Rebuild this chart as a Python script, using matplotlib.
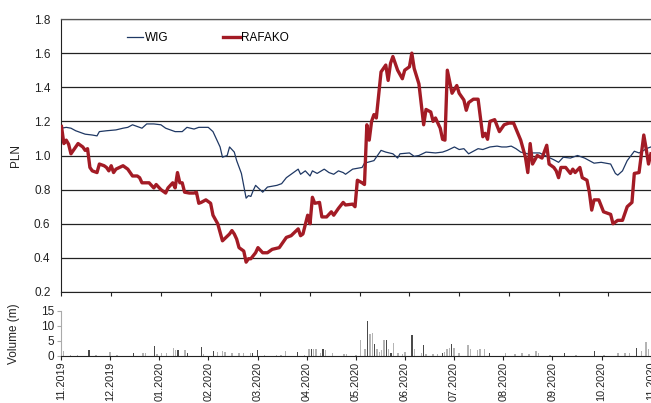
import numpy as np
import matplotlib
matplotlib.use("Agg")
import matplotlib.pyplot as plt

plt.rcParams['font.family'] = ['Liberation Sans', 'DejaVu Sans']
plt.rcParams['font.size'] = 8.5

# ---- data (trading-day index from 1 Nov 2019, ~21 sessions per month) ----
month_labels = ['11.2019', '12.2019', '01.2020', '02.2020', '03.2020',
                '04.2020', '05.2020', '06.2020', '07.2020', '08.2020',
                '09.2020', '10.2020', '11.2020']
days_per_month = 21

wig_t = [0, 2, 4, 6, 10, 13, 15, 16, 19, 23, 26, 28, 30, 32, 34, 36, 39, 42, 44, 46,
         48, 51, 53, 56, 58, 62, 64, 66, 67, 68, 70, 71, 73, 74, 76, 78, 79, 80, 81, 82,
         85, 87, 91, 93, 95, 98, 100, 101, 103, 105, 106, 108, 111, 113, 115, 117, 119, 120,
         123, 125, 127, 128, 132, 133, 135, 137, 140, 142, 143, 147, 149, 151, 154, 158,
         161, 163, 166, 168, 170, 172, 174, 176, 178, 181, 184, 186, 188, 190, 192, 194,
         197, 199, 202, 205, 208, 210, 212, 215, 218, 221, 225, 228, 232, 234, 235, 237,
         239, 242, 244, 246, 247, 249]
wig = [1.16, 1.165, 1.16, 1.145, 1.125, 1.12, 1.115, 1.14, 1.145, 1.15, 1.16, 1.165,
       1.18, 1.17, 1.16, 1.185, 1.185, 1.18, 1.16, 1.15, 1.14, 1.14, 1.165, 1.155, 1.165,
       1.165, 1.14, 1.08, 1.05, 0.99, 1.00, 1.05, 1.02, 0.97, 0.895, 0.75, 0.765, 0.76,
       0.795, 0.825, 0.785, 0.815, 0.825, 0.835, 0.87, 0.90, 0.92, 0.89, 0.91, 0.88, 0.91,
       0.895, 0.92, 0.90, 0.89, 0.91, 0.90, 0.89, 0.92, 0.925, 0.93, 0.955, 0.97, 0.99,
       1.03, 1.02, 1.01, 0.985, 1.01, 1.015, 0.995, 1.00, 1.02, 1.015, 1.02, 1.03, 1.05,
       1.035, 1.04, 1.01, 1.025, 1.04, 1.035, 1.05, 1.055, 1.05, 1.05, 1.055, 1.04, 1.02,
       1.01, 1.015, 1.015, 0.995, 0.975, 0.96, 0.99, 0.985, 1.00, 0.985, 0.955, 0.96,
       0.95, 0.895, 0.885, 0.91, 0.97, 1.025, 1.015, 1.03, 1.04, 1.05]

rafako_t = [0, 1, 2, 3, 4, 5, 7, 9, 10, 11, 12, 13, 15, 16, 18, 19, 20, 21, 22, 23, 26,
            28, 30, 32, 33, 34, 37, 39, 40, 42, 44, 45, 47, 48, 49, 50, 51, 52, 54, 56, 57,
            58, 59, 61, 63, 64, 66, 68, 71, 72, 73, 74, 75, 77, 78, 79, 80, 82, 83, 85, 87,
            89, 92, 95, 97, 100, 101, 102, 104, 105, 106, 107, 109, 110, 112, 114, 115, 117,
            119, 120, 123, 124, 125, 127, 128, 129, 130, 131, 132, 133, 135, 137, 138, 139,
            140, 142, 144, 145, 147, 148, 149, 151, 153, 154, 156, 157, 158, 160, 161, 162,
            163, 165, 167, 168, 170, 171, 172, 174, 176, 178, 179, 180, 181, 183, 185, 187,
            189, 191, 194, 196, 197, 198, 199, 201, 203, 205, 206, 208, 209, 210, 211, 213,
            215, 216, 217, 219, 220, 222, 223, 224, 225, 227, 229, 232, 233, 235, 237, 238,
            239, 241, 242, 244, 246, 247, 248, 249]
rafako = [1.17, 1.07, 1.09, 1.066, 1.01, 1.03, 1.07, 1.05, 1.03, 1.04, 0.93, 0.91, 0.90,
          0.95, 0.94, 0.93, 0.91, 0.94, 0.90, 0.92, 0.94, 0.92, 0.88, 0.88, 0.87, 0.84, 0.84,
          0.81, 0.83, 0.80, 0.78, 0.81, 0.84, 0.81, 0.90, 0.84, 0.84, 0.785, 0.78, 0.78,
          0.785, 0.72, 0.725, 0.74, 0.72, 0.65, 0.60, 0.50, 0.54, 0.56, 0.54, 0.51, 0.46,
          0.44, 0.375, 0.395, 0.395, 0.43, 0.46, 0.43, 0.43, 0.45, 0.46, 0.52, 0.53, 0.57,
          0.53, 0.54, 0.65, 0.60, 0.755, 0.72, 0.725, 0.64, 0.64, 0.67, 0.65, 0.69, 0.725,
          0.71, 0.715, 0.70, 0.855, 0.84, 0.83, 1.18, 1.09, 1.20, 1.24, 1.22, 1.49, 1.53,
          1.44, 1.54, 1.58, 1.50, 1.45, 1.50, 1.52, 1.60, 1.51, 1.42, 1.18, 1.27, 1.255,
          1.20, 1.22, 1.16, 1.095, 1.09, 1.50, 1.365, 1.41, 1.365, 1.325, 1.265, 1.31, 1.33,
          1.33, 1.11, 1.13, 1.095, 1.20, 1.21, 1.14, 1.18, 1.19, 1.19, 1.09, 0.99, 0.90,
          1.07, 0.95, 1.00, 0.985, 1.06, 0.95, 0.93, 0.91, 0.87, 0.93, 0.93, 0.895, 0.92,
          0.90, 0.93, 0.87, 0.855, 0.785, 0.68, 0.74, 0.74, 0.67, 0.655, 0.60, 0.62, 0.62,
          0.66, 0.70, 0.725, 0.895, 0.90, 1.12, 1.04, 0.95, 1.01]

# volume in millions of shares (two shades in the original)
vol_dark_t = [12, 31, 40, 50, 54, 60, 65, 82, 84, 101, 107, 112, 131, 134, 139, 141, 150,
              155, 163, 167, 183, 215, 228, 246]
vol_dark = [1.8, 1.0, 3.1, 1.8, 1.0, 2.8, 1.7, 1.0, 1.8, 1.2, 2.1, 2.3, 11.6, 4.0, 5.1,
            1.0, 6.8, 3.7, 1.0, 4.0, 1.0, 1.0, 1.6, 2.7]
vol_light_t = [1, 4, 7, 15, 21, 24, 35, 36, 41, 43, 45, 48, 49, 53, 61, 67, 69, 70, 73, 76,
               78, 81, 87, 92, 94, 96, 104, 106, 108, 109, 111, 113, 116, 121, 122, 126,
               128, 130, 132, 133, 135, 136, 137, 138, 140, 142, 144, 146, 147, 151, 154,
               156, 159, 161, 164, 165, 166, 168, 170, 174, 175, 178, 179, 181, 190, 194,
               197, 200, 203, 204, 209, 220, 232, 238, 241, 243, 248, 250, 251]
vol_light = [1.5, 0.3, 0.3, 0.3, 1.3, 0.3, 0.8, 0.9, 0.7, 0.9, 1.0, 2.7, 1.8, 1.8, 0.7,
             1.4, 1.5, 1.3, 0.9, 0.8, 0.9, 0.9, 0.4, 0.3, 0.3, 1.5, 0.4, 2.2, 2.3, 2.3,
             1.0, 1.8, 0.9, 0.7, 0.7, 0.4, 5.3, 2.3, 7.1, 7.7, 2.3, 1.4, 1.8, 5.3, 2.3,
             4.3, 1.0, 0.7, 1.2, 2.3, 1.0, 0.7, 0.7, 0.7, 1.4, 2.1, 2.7, 2.7, 1.0, 3.6,
             2.1, 2.0, 2.3, 2.4, 1.0, 0.6, 0.8, 0.6, 1.5, 0.8, 0.4, 0.3, 0.3, 0.8, 0.8,
             0.8, 1.5, 4.6, 2.4]

# ---- layout ----
W, H = 651, 403
t_max = 256
fig = plt.figure(figsize=(W / 100, H / 100), dpi=100)

ax = fig.add_axes([61.5 / W, (H - 292) / H, 2.367 * t_max / W, 273 / H])
axv = fig.add_axes([61 / W, (H - 355.7) / H, 2.340 * t_max / W, 45 / H])

# ---- main price panel ----
ax.plot(wig_t, wig, color='#1f3864', lw=0.9, label='WIG', zorder=3)
ax.plot(rafako_t, rafako, color='#a31b25', lw=2.4, label='RAFAKO', zorder=4)

ax.set_xlim(0, t_max)
ax.set_ylim(0.2, 1.8)
ax.set_yticks(np.arange(0.2, 1.81, 0.2))
ax.set_yticklabels([f'{v:.1f}' for v in np.arange(0.2, 1.81, 0.2)])
ax.set_xticks([i * days_per_month for i in range(len(month_labels))])
ax.set_xticklabels([])
ax.tick_params(axis='y', length=0, pad=8, colors='#222222')
ax.tick_params(axis='x', direction='out', length=3, width=0.8, color='#222222')
ax.grid(axis='y', color='#222222', lw=0.9)
ax.spines['right'].set_visible(False)
ax.spines['top'].set_color('#555555')
ax.spines['top'].set_linewidth(0.9)
ax.spines['left'].set_color('#222222')
ax.spines['bottom'].set_color('#222222')
ax.set_ylabel('PLN', color='#222222')
ax.yaxis.set_label_coords(-0.065, 0.5)

ax.legend(loc='center left', bbox_to_anchor=(0.108, 0.93), ncol=2, frameon=False,
          handlelength=1.4, handletextpad=0.15, columnspacing=4.6,
          borderpad=0, borderaxespad=0)

# ---- volume panel ----
axv.bar(vol_light_t, vol_light, width=0.6, color='#b4b4b4', linewidth=0)
axv.bar(vol_dark_t, vol_dark, width=0.5, color='#4a4a4a', linewidth=0)
axv.set_xlim(0, t_max)
axv.set_ylim(0, 15)
axv.set_yticks([0, 5, 10, 15])
axv.set_xticks([i * days_per_month for i in range(len(month_labels))])
axv.set_xticklabels(month_labels, rotation=90, fontsize=7.8)
axv.tick_params(axis='x', direction='out', length=3, width=0.8, color='#222222',
                pad=1.2, labelcolor='#222222')
axv.tick_params(axis='y', direction='out', length=3, width=0.8, color='#aaaaaa',
                pad=2, labelcolor='#222222')
axv.spines['top'].set_visible(False)
axv.spines['right'].set_visible(False)
axv.spines['left'].set_color('#aaaaaa')
axv.spines['bottom'].set_color('#222222')
axv.set_ylabel('Volume (m)', color='#222222')
axv.yaxis.set_label_coords(-0.068, 0.5)

fig.savefig('out.png', dpi=100)
